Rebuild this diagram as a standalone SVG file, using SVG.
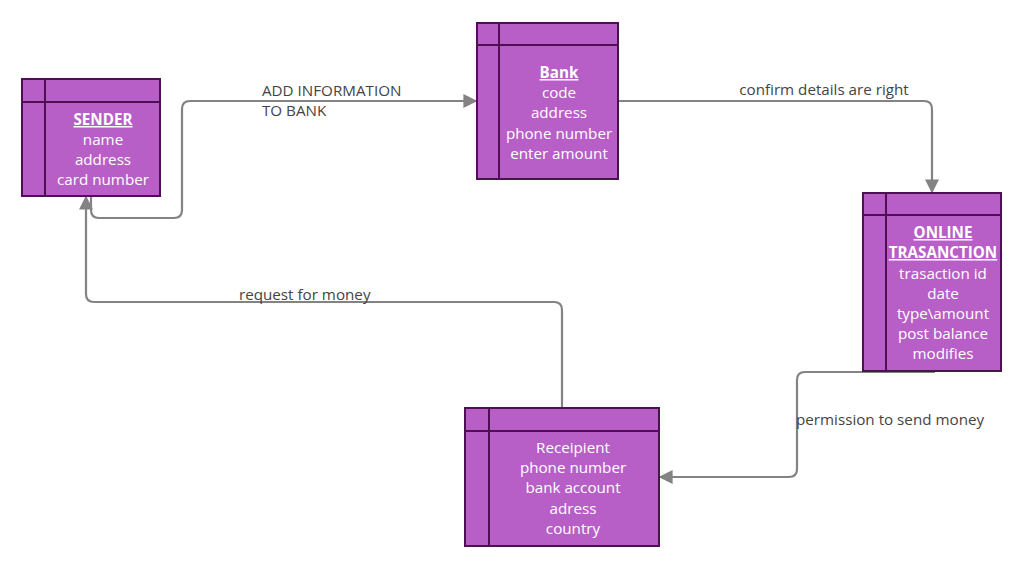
<svg xmlns="http://www.w3.org/2000/svg" width="1024" height="568" viewBox="0 0 1024 568">
<style>
.box{fill:#b75ec7;stroke:#4f0f55;stroke-width:2}
.div{stroke:#4f0f55;stroke-width:2;fill:none}
.t{font-family:"Open Sans","Noto Sans","Liberation Sans",sans-serif;font-size:15.2px;fill:#ffffff;text-anchor:middle}
.u{text-decoration:underline;font-weight:bold}
.conn{fill:none;stroke:#838383;stroke-width:2.2}
.lbl{font-family:"Open Sans","Noto Sans","Liberation Sans",sans-serif;font-size:15.2px;fill:#444444}
</style>
<defs>
<marker id="arr" viewBox="0 0 10 10" refX="9" refY="5" markerWidth="14" markerHeight="14" markerUnits="userSpaceOnUse" orient="auto">
<path d="M0,0 L10,5 L0,10 z" fill="#838383"/>
</marker>
</defs>
<rect width="1024" height="568" fill="#ffffff"/>
<g id="connectors">
<path class="conn" d="M91,197 V210 Q91,218 99,218 H174 Q182,218 182,210 V109 Q182,101 190,101 H476" marker-end="url(#arr)"/>
<text class="lbl" x="262" y="96">ADD INFORMATION</text>
<text class="lbl" x="262" y="116">TO BANK</text>
<path class="conn" d="M618,101 H924 Q932,101 932,109 V192" marker-end="url(#arr)"/>
<text class="lbl" x="824" y="95" text-anchor="middle">confirm details are right</text>
<path class="conn" d="M935,372 H805 Q797,372 797,380 V469 Q797,477 789,477 H660" marker-end="url(#arr)"/>
<text class="lbl" x="796" y="425">permission to send money</text>
<path class="conn" d="M562,408 V310 Q562,302 554,302 H94 Q86,302 86,294 V197" marker-end="url(#arr)"/>
<text class="lbl" x="239" y="300">request for money</text>
</g>
<g id="sender">
<rect class="box" x="22" y="79" width="138" height="117"/>
<path class="div" d="M45,79 V196 M22,102 H160"/>
<text class="t" x="103" y="125"><tspan class="u">SENDER </tspan></text>
<text class="t" x="103" y="145">name</text>
<text class="t" x="103" y="165">address</text>
<text class="t" x="103" y="185">card number</text>
</g>
<g id="bank">
<rect class="box" x="477" y="23" width="141" height="156"/>
<path class="div" d="M499,23 V179 M477,45 H618"/>
<text class="t" x="559" y="78"><tspan class="u">Bank</tspan></text>
<text class="t" x="559" y="98">code</text>
<text class="t" x="559" y="118">address</text>
<text class="t" x="559" y="139">phone number</text>
<text class="t" x="559" y="159">enter amount</text>
</g>
<g id="online-transaction">
<rect class="box" x="863" y="193" width="138" height="178"/>
<path class="div" d="M886,193 V371 M863,215 H1001"/>
<text class="t" x="943" y="238"><tspan class="u">ONLINE </tspan></text>
<text class="t" x="943" y="258"><tspan class="u">TRASANCTION</tspan></text>
<text class="t" x="943" y="279">trasaction id</text>
<text class="t" x="943" y="299">date</text>
<text class="t" x="943" y="319">type\amount</text>
<text class="t" x="943" y="339">post balance</text>
<text class="t" x="943" y="359">modifies</text>
</g>
<g id="recipient">
<rect class="box" x="465" y="408" width="194" height="138"/>
<path class="div" d="M489,408 V546 M465,431 H659"/>
<text class="t" x="573" y="453">Receipient</text>
<text class="t" x="573" y="473">phone number</text>
<text class="t" x="573" y="493">bank account</text>
<text class="t" x="573" y="514">adress</text>
<text class="t" x="573" y="534">country</text>
</g>
</svg>
